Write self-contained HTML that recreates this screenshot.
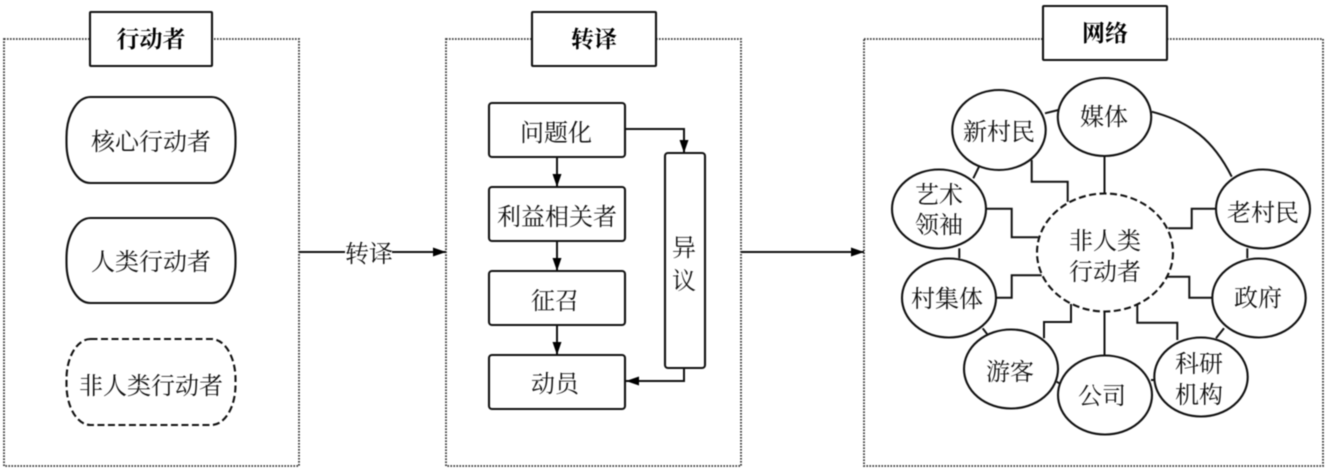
<!DOCTYPE html>
<html><head><meta charset="utf-8"><style>
html,body{margin:0;padding:0;background:#fff;overflow:hidden}
svg{display:block;filter:blur(0.4px)}
text{font-family:"Liberation Serif","Noto Serif CJK SC",serif;font-size:24px;fill:#111;text-anchor:middle}
.t{font-weight:700;font-size:23px;fill:#000}
.p{fill:none;stroke:#333;stroke-width:1.8;stroke-dasharray:1.6 1.4}
.b{fill:#fff;stroke:#111;stroke-width:2.1}
.l{fill:none;stroke:#111;stroke-width:2}
.d{stroke-dasharray:7 3.5}
</style></head><body>
<svg width="1329" height="471" viewBox="0 0 1329 471" xmlns="http://www.w3.org/2000/svg">
<defs><marker id="a" markerWidth="14" markerHeight="10" refX="13" refY="5" orient="auto" markerUnits="userSpaceOnUse"><path d="M0 0.500L13 5L0 9.500Z" fill="#000"/></marker></defs>
<rect width="1329" height="471" fill="#fff"/>
<rect class="p" x="4" y="39" width="295" height="427"/>
<rect class="p" x="446" y="39" width="295" height="427"/>
<rect class="p" x="864" y="39" width="459" height="427"/>
<rect class="b" x="90" y="12" width="122" height="54" rx="1"/><text class="t" x="151" y="47">行动者</text>
<rect class="b" x="532" y="12" width="124" height="54" rx="1"/><text class="t" x="594" y="47">转译</text>
<rect class="b" x="1043" y="6" width="124" height="54" rx="1"/><text class="t" x="1105" y="41">网络</text>

<rect class="b" x="66.500" y="97" width="169" height="86" rx="24" ry="40"/><text x="151" y="150">核心行动者</text>
<rect class="b" x="66.500" y="218" width="169" height="85" rx="24" ry="40"/><text x="151" y="270">人类行动者</text>
<rect class="b d" x="66.500" y="339" width="169" height="86" rx="24" ry="40"/><text x="151" y="394">非人类行动者</text>

<path class="l" d="M299 252H345M392 252H446" marker-end="url(#a)"/>
<text x="369" y="262">转译</text>
<path class="l" d="M741 252H864" marker-end="url(#a)"/>

<rect class="b" x="489" y="103" width="136" height="54" rx="3"/><text x="556" y="141">问题化</text>
<rect class="b" x="489" y="187" width="136" height="54" rx="3"/><text x="557" y="225">利益相关者</text>
<rect class="b" x="489" y="271" width="136" height="54" rx="3"/><text x="555" y="309">征召</text>
<rect class="b" x="489" y="355" width="136" height="54" rx="3"/><text x="555" y="392">动员</text>
<rect class="b" x="665" y="153" width="40" height="215" rx="3"/><text x="684" y="256">异</text><text x="684" y="289">议</text>
<path class="l" d="M557 157V187" marker-end="url(#a)"/>
<path class="l" d="M557 241V271" marker-end="url(#a)"/>
<path class="l" d="M557 325V355" marker-end="url(#a)"/>
<path class="l" d="M625 129H684V153" marker-end="url(#a)"/>
<path class="l" d="M684 368V381H626" marker-end="url(#a)"/>

<path class="l" d="M1104.500 156V193.500"/>
<path class="l" d="M1031.700 160V181.700H1067.700V201.700"/>
<path class="l" d="M986.300 208.700H1011.700V237.300H1038.300"/>
<path class="l" d="M996.300 297.700H1011.700V275.300H1041.700"/>
<path class="l" d="M1044 338.300V322H1071V304"/>
<path class="l" d="M1104.500 355.300V311.700"/>
<path class="l" d="M1177.300 340V322.700H1137.300V305"/>
<path class="l" d="M1212 297.700H1189.300V276.700H1167.300"/>
<path class="l" d="M1216.300 208.700H1191.700V228.300H1168.300"/>
<path class="l" d="M1045 113.300L1058.300 110"/>
<path class="l" d="M979 166.700L973.300 178.300"/>
<path class="l" d="M959.300 248.300V258.300"/>
<path class="l" d="M982.700 328.300L987.300 334.300"/>
<path class="l" d="M1056.700 381.700L1059.300 383.300"/>
<path class="l" d="M1151 380H1155"/>
<path class="l" d="M1216 338.300L1224 328.300"/>
<path class="l" d="M1247.300 248.300V258.300"/>
<path class="l" d="M1151.700 111.700C1190 121.700 1213.300 140 1231.700 176.700"/>

<ellipse class="b d" cx="1105" cy="252.500" rx="68" ry="59"/><text x="1105" y="249">非人类</text><text x="1105" y="280">行动者</text>
<ellipse class="b" cx="1104.500" cy="117" rx="46.700" ry="39"/><text x="1104" y="125">媒体</text>
<ellipse class="b" cx="999" cy="130" rx="46.700" ry="40"/><text x="999" y="140">新村民</text>
<ellipse class="b" cx="939" cy="209" rx="47" ry="39.500"/><text x="939" y="203">艺术</text><text x="939" y="233">领袖</text>
<ellipse class="b" cx="1263" cy="209" rx="47" ry="39.500"/><text x="1263" y="221">老村民</text>
<ellipse class="b" cx="949" cy="298" rx="47" ry="39.500"/><text x="947" y="307">村集体</text>
<ellipse class="b" cx="1259" cy="298" rx="46.700" ry="39.500"/><text x="1258" y="306">政府</text>
<ellipse class="b" cx="1011" cy="369" rx="47" ry="39.500"/><text x="1010" y="380">游客</text>
<ellipse class="b" cx="1105" cy="395" rx="47" ry="39.500"/><text x="1102" y="404">公司</text>
<ellipse class="b" cx="1201" cy="377" rx="46.700" ry="39.500"/><text x="1199" y="372">科研</text><text x="1199" y="403">机构</text>
</svg>
</body></html>
